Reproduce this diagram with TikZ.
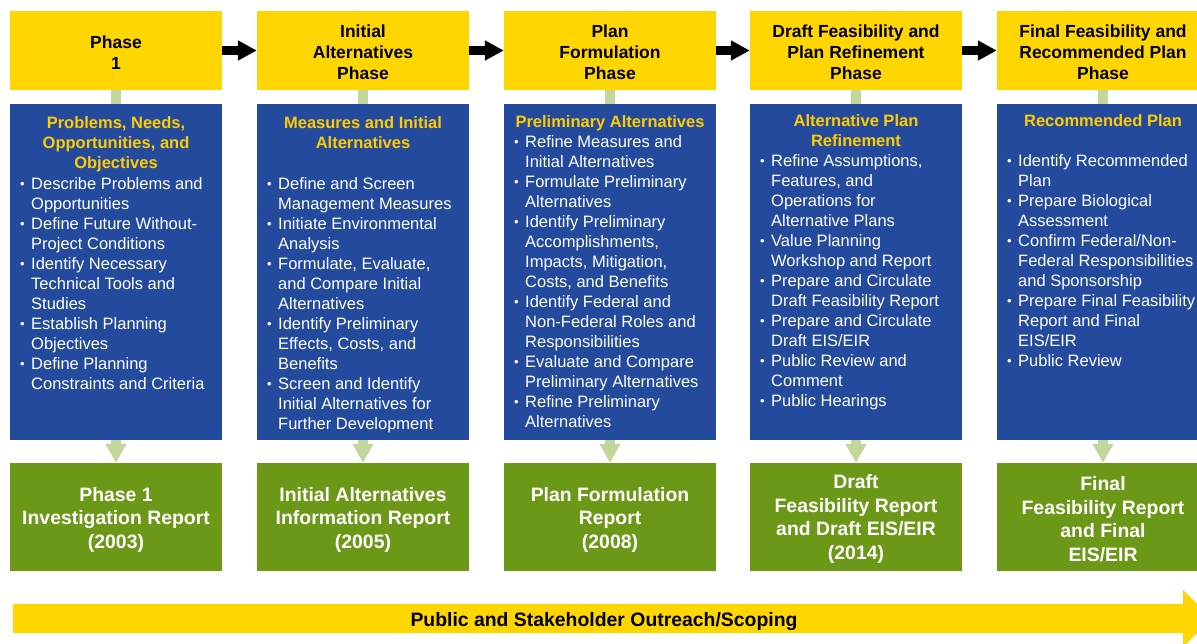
\documentclass[tikz,border=0pt]{standalone}
\usepackage{fontspec}
\setmainfont{Liberation Sans}
\usetikzlibrary{arrows.meta}
\definecolor{phy}{RGB}{255,214,0}
\definecolor{bluebox}{RGB}{36,74,158}
\definecolor{greenbox}{RGB}{108,152,24}
\definecolor{lightg}{RGB}{195,214,155}
\definecolor{heady}{RGB}{255,204,0}
\newcommand\bul{\makebox[11pt][l]{\raisebox{0.8pt}{\fontsize{13}{13}\selectfont\textbullet}}}
\newcommand\ind{\hspace*{11pt}}
\tikzset{
  ybox/.style={fill=phy, minimum width=212pt, minimum height=79pt, inner sep=0pt},
  ytxt/.style={inner sep=0pt, align=center, font=\bfseries\fontsize{17.5}{21}\selectfont, text=black},
  bbox/.style={fill=bluebox, minimum width=212pt, minimum height=336pt, inner sep=0pt},
  gbox/.style={fill=greenbox, minimum width=212pt, minimum height=108pt, inner sep=0pt},
  gtxt/.style={inner sep=0pt, align=center, font=\bfseries\fontsize{19.4}{23.5}\selectfont, text=white},
  head/.style={anchor=north, inner sep=0pt, align=center, text=heady,
    font=\bfseries\fontsize{16.5}{20}\selectfont},
  lst/.style={anchor=north west, inner sep=0pt, align=left, text=white,
    font=\fontsize{16.5}{20}\selectfont},
  blk/.style={line width=9pt, black, -{Triangle[length=19pt,width=19pt]}},
  garr/.style={line width=10pt, lightg, -{Triangle[length=19pt,width=20pt]}},
  stem/.style={line width=10pt, lightg}
}
\begin{document}
\begin{tikzpicture}[x=1pt,y=-1pt]
\useasboundingbox (0,0) rectangle (1197,643);
\clip (0,0) rectangle (1197,643);
% top phase boxes
\node[ybox] (y1) at (116,50.5) {};
\node[ybox] (y2) at (363,50.5) {};
\node[ybox] (y3) at (610,50.5) {};
\node[ybox] (y4) at (856,50.5) {};
\node[ybox] (y5) at (1103,50.5) {};
\node[ytxt] (yt1) at (116,52.5) {Phase\\1};
\node[ytxt] (yt2) at (363,52.5) {Initial\\Alternatives\\Phase};
\node[ytxt] (yt3) at (610,52.5) {Plan\\Formulation\\Phase};
\node[ytxt] (yt4) at (856,52.5) {Draft Feasibility and\\Plan Refinement\\Phase};
\node[ytxt] (yt5) at (1103,52.5) {Final Feasibility and\\Recommended Plan\\Phase};
% blue boxes
\node[bbox] (b1) at (116,272) {};
\node[bbox] (b2) at (363,272) {};
\node[bbox] (b3) at (610,272) {};
\node[bbox] (b4) at (856,272) {};
\node[bbox] (b5) at (1103,272) {};
% green boxes
\node[gbox] (g1) at (116,517) {};
\node[gbox] (g2) at (363,517) {};
\node[gbox] (g3) at (610,517) {};
\node[gbox] (g4) at (856,517) {};
\node[gbox] (g5) at (1103,517) {};
\node[gtxt] (gt1) at (116,519.5) {Phase 1\\Investigation Report\\(2003)};
\node[gtxt] (gt2) at (363,519.5) {Initial Alternatives\\Information Report\\(2005)};
\node[gtxt] (gt3) at (610,519.5) {Plan Formulation\\Report\\(2008)};
\node[gtxt] (gt4) at (856,519) {Draft\\Feasibility Report\\and Draft EIS/EIR\\(2014)};
\node[gtxt] (gt5) at (1103,519) {Final\\Feasibility Report\\and Final\\EIS/EIR};
% connectors
\foreach \i/\j in {1/2,2/3,3/4,4/5} \draw[blk] (y\i.east) -- (y\j.west);
\foreach \i in {1,...,5} {
  \draw[stem] (y\i.south) -- (b\i.north);
  \draw[garr] (b\i.south) -- (g\i.north);
}
% box 1
\node[head] (h1) at (116,116) {Problems, Needs,\\Opportunities, and\\Objectives};
\node[lst] (l1) at (20,177) {\bul Describe Problems and\\\ind Opportunities\\\bul Define Future Without-\\\ind Project Conditions\\\bul Identify Necessary\\\ind Technical Tools and\\\ind Studies\\\bul Establish Planning\\\ind Objectives\\\bul Define Planning\\\ind Constraints and Criteria};
% box 2
\node[head] (h2) at (363,116) {Measures and Initial\\Alternatives};
\node[lst] (l2) at (267,177) {\bul Define and Screen\\\ind Management Measures\\\bul Initiate Environmental\\\ind Analysis\\\bul Formulate, Evaluate,\\\ind and Compare Initial\\\ind Alternatives\\\bul Identify Preliminary\\\ind Effects, Costs, and\\\ind Benefits\\\bul Screen and Identify\\\ind Initial Alternatives for\\\ind Further Development};
% box 3
\node[head] (h3) at (610,115) {Preliminary Alternatives};
\node[lst] (l3) at (514,135) {\bul Refine Measures and\\\ind Initial Alternatives\\\bul Formulate Preliminary\\\ind Alternatives\\\bul Identify Preliminary\\\ind Accomplishments,\\\ind Impacts, Mitigation,\\\ind Costs, and Benefits\\\bul Identify Federal and\\\ind Non-Federal Roles and\\\ind Responsibilities\\\bul Evaluate and Compare\\\ind Preliminary Alternatives\\\bul Refine Preliminary\\\ind Alternatives};
% box 4
\node[head] (h4) at (856,114) {Alternative Plan\\Refinement};
\node[lst] (l4) at (760,154) {\bul Refine Assumptions,\\\ind Features, and\\\ind Operations for\\\ind Alternative Plans\\\bul Value Planning\\\ind Workshop and Report\\\bul Prepare and Circulate\\\ind Draft Feasibility Report\\\bul Prepare and Circulate\\\ind Draft EIS/EIR\\\bul Public Review and\\\ind Comment\\\bul Public Hearings};
% box 5
\node[head] (h5) at (1103,114) {Recommended Plan};
\node[lst] (l5) at (1007,154) {\bul Identify Recommended\\\ind Plan\\\bul Prepare Biological\\\ind Assessment\\\bul Confirm Federal/Non-\\\ind Federal Responsibilities\\\ind and Sponsorship\\\bul Prepare Final Feasibility\\\ind Report and Final\\\ind EIS/EIR\\\bul Public Review};
% outreach arrow
\fill[phy] (13,604) -- (1183,604) -- (1183,590) -- (1212,618.5) -- (1183,647) -- (1183,633) -- (13,633) -- cycle;
\node[inner sep=0pt, font=\bfseries\fontsize{19.4}{22}\selectfont] (out) at (604,621.5) {Public and Stakeholder Outreach/Scoping};
\end{tikzpicture}
\end{document}
